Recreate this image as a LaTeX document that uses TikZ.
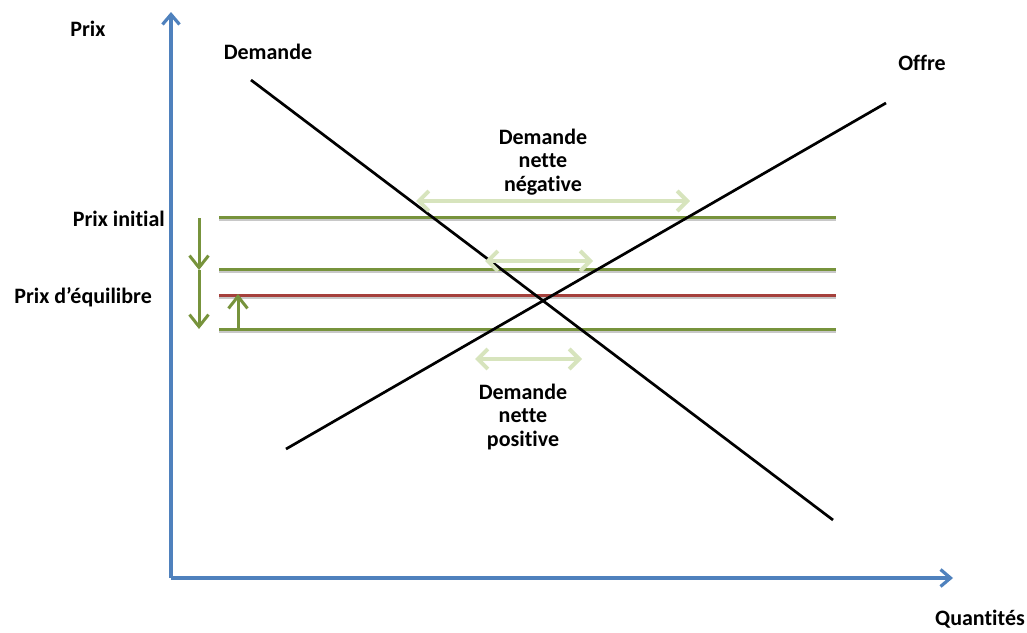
\documentclass[tikz,border=0pt]{standalone}
\usepackage{fontspec}
\setmainfont{Carlito}[Ligatures=CommonOff]
\usetikzlibrary{arrows.meta}
\definecolor{axisblue}{HTML}{4F81BD}
\definecolor{olive}{HTML}{77933C}
\definecolor{lightolive}{HTML}{D7E4BD}
\definecolor{eqred}{HTML}{A5403C}
\definecolor{shadowgray}{HTML}{C8C8C8}
\tikzset{
  lbl/.style={font=\bfseries\fontsize{22}{23.5}\selectfont, inner sep=0pt, align=center},
  axisline/.style={draw=axisblue, line width=3.4pt, -{Straight Barb[length=10pt,width=17pt,line width=3.2pt]}},
  curve/.style={draw=black, line width=2.7pt},
  priceline/.style={draw=olive, line width=3pt},
  eqline/.style={draw=eqred, line width=3pt},
  shadowline/.style={draw=shadowgray, line width=3pt},
  movearrow/.style={draw=olive, line width=3pt, -{Straight Barb[length=12pt,width=19pt,line width=3pt]}},
  gaparrow/.style={draw=lightolive, line width=4.5pt, {Straight Barb[length=10pt,width=20pt,line width=4pt]}-{Straight Barb[length=10pt,width=20pt,line width=4pt]}}
}
\begin{document}
\begin{tikzpicture}[x=1pt,y=-1pt]
\useasboundingbox (0,0) rectangle (1027,632);
% axes
\coordinate (O) at (171,578);
\coordinate (Ytop) at (171,12);
\coordinate (Xend) at (953,578);
\draw[axisline] (O) -- (Ytop);
\draw[axisline] (O) -- (Xend);
% price lines with shadows
\foreach \yy/\nm in {217/pi,269/pm,329/pl}{
  \coordinate (\nm a) at (219,\yy);
  \coordinate (\nm b) at (836,\yy);
}
\coordinate (pea) at (219,295);
\coordinate (peb) at (836,295);
\foreach \nm in {pi,pm,pl,pe}{
  \draw[shadowline] ([yshift=-2.5pt]\nm a) -- ([yshift=-2.5pt]\nm b);
}
\draw[priceline] (pia) -- (pib);
\draw[priceline] (pma) -- (pmb);
\draw[priceline] (pla) -- (plb);
\draw[eqline] (pea) -- (peb);
% demand and supply
\coordinate (d1) at (251,80);
\coordinate (d2) at (833,520);
\coordinate (s1) at (286,449);
\coordinate (s2) at (886,103);
\draw[curve] (d1) -- (d2);
\draw[curve] (s1) -- (s2);
% gap arrows
\coordinate (g1a) at (416,201); \coordinate (g1b) at (690,201);
\coordinate (g2a) at (485,261); \coordinate (g2b) at (593,261);
\coordinate (g3a) at (475,359); \coordinate (g3b) at (582,359);
\draw[gaparrow] (g1a) -- (g1b);
\draw[gaparrow] (g2a) -- (g2b);
\draw[gaparrow] (g3a) -- (g3b);
% price movement arrows
\coordinate (m1a) at (199,218); \coordinate (m1b) at (199,270);
\coordinate (m2a) at (199,270); \coordinate (m2b) at (199,329);
\coordinate (m3a) at (238,329); \coordinate (m3b) at (238,294);
\draw[movearrow] (m1a) -- (m1b);
\draw[movearrow] (m2a) -- (m2b);
\draw[movearrow] (m3a) -- (m3b);
% labels
\node[lbl] (prix) at (88,29) {Prix};
\node[lbl] (dem) at (268,52) {Demande};
\node[lbl] (off) at (922,63) {Offre};
\node[lbl] (qty) at (980,619) {Quantités};
\node[lbl, anchor=east] (pinit) at (165,219) {Prix initial};
\node[lbl, anchor=east] (peq) at (152,297) {Prix d’équilibre};
\node[lbl] (neg) at (543,162) {Demande\\nette\\négative};
\node[lbl] (pos) at (523,417) {Demande\\nette\\positive};
\end{tikzpicture}
\end{document}
